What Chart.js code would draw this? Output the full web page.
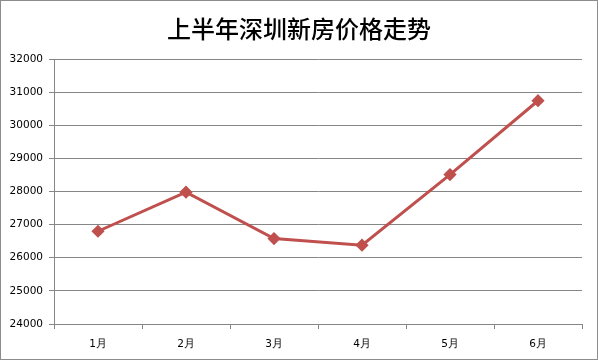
<!DOCTYPE html>
<html>
<head>
<meta charset="utf-8">
<script src="https://cdn.jsdelivr.net/npm/chart.js@4"></script>
<style>
  html, body { margin: 0; padding: 0; background: #fff; }
  #box { width: 598px; height: 360px; }
</style>
</head>
<body>
<div id="box"><canvas id="priceChart" width="598" height="360"></canvas></div>
<script>
// data
const months = ['1月', '2月', '3月', '4月', '5月', '6月'];
const prices = [26800, 27980, 26580, 26380, 28510, 30740];
const yTicks = [24000, 25000, 26000, 27000, 28000, 29000, 30000, 31000, 32000];
const chartTitle = '上半年深圳新房价格走势';

// white background, thin grey frame, and the title centred on the whole canvas
const frame = {
  id: 'frame',
  beforeDraw(chart) {
    const c = chart.ctx;
    c.save();
    c.fillStyle = '#fff';
    c.fillRect(0, 0, chart.width, chart.height);
    c.strokeStyle = '#8c8c8c';
    c.lineWidth = 1;
    c.strokeRect(0.5, 0.5, chart.width - 1, chart.height - 1);
    c.fillStyle = '#000';
    c.font = '500 24px "Noto Sans CJK SC"';
    c.textAlign = 'center';
    c.textBaseline = 'middle';
    c.fillText(chartTitle, chart.width / 2, 29);
    c.restore();
  }
};

const initChart = () => {
  const ctx = document.getElementById('priceChart').getContext('2d');
  new Chart(ctx, {
    type: 'line',
    data: {
      labels: months,
      datasets: [{
        data: prices,
        borderColor: '#c0504d',
        backgroundColor: '#c0504d',
        borderWidth: 3,
        tension: 0,
        pointStyle: 'rectRot',
        pointRadius: 4.5,
        pointHoverRadius: 4.5
      }]
    },
    options: {
      responsive: false,
      animation: false,
      devicePixelRatio: 1,
      layout: { padding: { left: 0, right: 16, top: 59, bottom: 0 } },
      plugins: {
        legend: { display: false },
        tooltip: { enabled: false },
        title: { display: false }
      },
      scales: {
        x: {
          offset: true,
          grid: {
            offset: true,
            drawOnChartArea: false,
            drawTicks: true,
            tickLength: 5,
            color: '#868686'
          },
          border: { color: '#868686', width: 1 },
          ticks: {
            color: '#000',
            padding: 9,
            font: { family: '"DejaVu Sans"', size: 10.5 }
          },
          afterFit(scale) { scale.height = 36; }
        },
        y: {
          min: 24000,
          max: 32000,
          afterBuildTicks(scale) {
            scale.ticks = yTicks.map(v => ({ value: v }));
          },
          grid: {
            color: '#868686',
            tickLength: 5
          },
          border: { color: '#868686', width: 1 },
          ticks: {
            color: '#000',
            padding: 6,
            font: { family: '"DejaVu Sans"', size: 10.5 },
            callback: v => String(v)
          },
          afterFit(scale) { scale.width = 54; }
        }
      }
    },
    plugins: [frame]
  });
};

document.addEventListener('DOMContentLoaded', initChart);
</script>
</body>
</html>
